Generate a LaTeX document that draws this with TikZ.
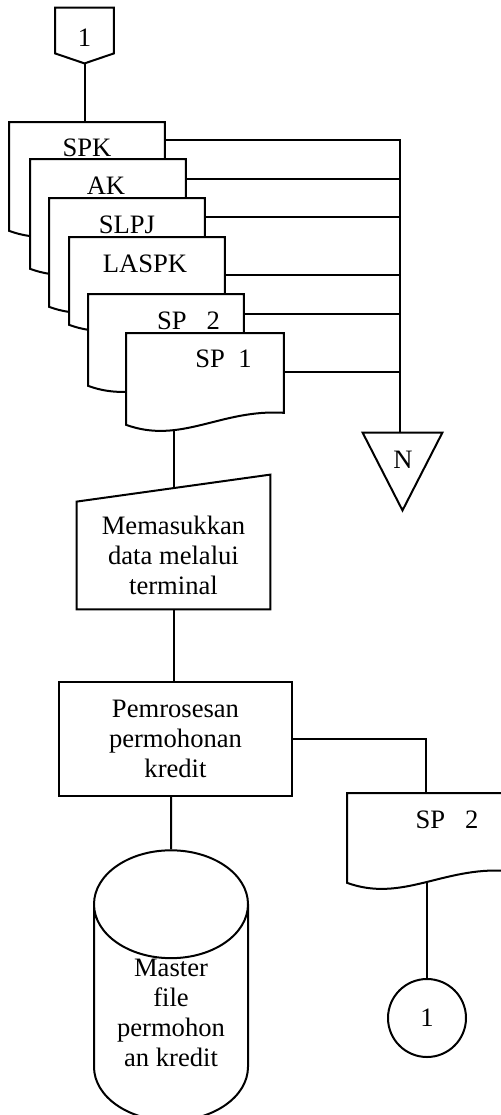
\documentclass[tikz,border=0pt]{standalone}
\usepackage{fontspec}
\setmainfont{Liberation Serif}
\usetikzlibrary{shapes.geometric,backgrounds}

\tikzset{
  every node/.style={font=\fontsize{13.3}{15}\selectfont, align=center, inner sep=0pt},
  garis/.style={line width=1pt},
  bentuk/.style={draw, garis, fill=white},
  dok/.style={minimum width=77.5pt, anchor=north west},
}

\begin{document}
\begin{tikzpicture}[x=0.5pt, y=-0.5pt]
  \useasboundingbox (0,0) rectangle (501,1115);
  \clip (0,0) rectangle (501,1115);

  % penghubung halaman
  \node[minimum width=29pt, minimum height=22.5pt] (awal) at (84.5,30.5) {};
  \draw[bentuk] (awal.south west) -- (awal.north west) -- (awal.north east)
    -- (awal.south east) -- ([yshift=-5pt]awal.south) -- cycle;
  \node (awalteks) at (84.5,38) {1};

  % tumpukan dokumen
  \node[dok, minimum height=54pt] (spk) at (9,122) {};
  \draw[bentuk] (spk.north east) -- (spk.north west) -- (spk.south west)
    .. controls +(27pt,-10pt) and +(-31pt,2pt) .. ([yshift=6pt]spk.south east) -- cycle;
  \node (spkteks) at (87,148) {SPK};

  \node[dok, minimum height=54.5pt] (ak) at (30,159) {};
  \draw[bentuk] (ak.north east) -- (ak.north west) -- (ak.south west)
    .. controls +(27pt,-10pt) and +(-31pt,2pt) .. ([yshift=6pt]ak.south east) -- cycle;
  \node (akteks) at (106,186) {AK};

  \node[dok, minimum height=54pt] (slpj) at (49,198) {};
  \draw[bentuk] (slpj.north east) -- (slpj.north west) -- (slpj.south west)
    .. controls +(27pt,-10pt) and +(-31pt,2pt) .. ([yshift=6pt]slpj.south east) -- cycle;
  \node (slpjteks) at (127,225) {SLPJ};

  \node[dok, minimum height=43.5pt] (laspk) at (69,237) {};
  \draw[bentuk] (laspk.north east) -- (laspk.north west) -- (laspk.south west)
    .. controls +(27pt,-10pt) and +(-31pt,2pt) .. ([yshift=6pt]laspk.south east) -- cycle;
  \node (laspkteks) at (145,264) {LASPK};

  \node[dok, minimum height=45.5pt] (sp2) at (88,294) {};
  \draw[bentuk] (sp2.north east) -- (sp2.north west) -- (sp2.south west)
    .. controls +(27pt,-10pt) and +(-31pt,2pt) .. ([yshift=6pt]sp2.south east) -- cycle;
  \node (sp2teks) at (188.5,321) {SP\ \ \ 2};

  \node[dok, minimum width=78.5pt, minimum height=45.5pt] (sp1) at (126,333) {};
  \draw[bentuk] (sp1.north east) -- (sp1.north west) -- (sp1.south west)
    .. controls +(27.5pt,-10pt) and +(-31.5pt,2pt) .. ([yshift=6pt]sp1.south east) -- cycle;
  \node (sp1teks) at (223.5,359) {SP\ \ 1};

  % arsip
  \coordinate (bus) at (400,140);
  \node[minimum width=39.5pt, minimum height=38.5pt] (akhir) at (402.5,471.5) {};
  \draw[bentuk] (akhir.north west) -- (akhir.north east) -- (akhir.south) -- cycle;
  \node (akhirteks) at (403,460) {N};

  % input terminal
  \node[minimum width=96.5pt, minimum height=53.5pt] (input) at (173.5,555.5) {};
  \draw[bentuk] (input.south west) -- (input.north west)
    -- ([yshift=13.5pt]input.north east) -- (input.south east) -- cycle;
  \node (inputteks) at (input) {Memasukkan\\data melalui\\terminal};

  \node[bentuk, minimum width=116.5pt, minimum height=57pt] (proses) at (175.5,739)
    {Pemrosesan\\permohonan\\kredit};

  \node[bentuk, cylinder, shape border rotate=90, aspect=1,
        minimum width=77pt, minimum height=103.5pt] (db) at (171,1013)
    {Master\\file\\permohon\\an kredit};

  \node[dok, minimum width=79pt, minimum height=44.5pt] (sp2b) at (347,793) {};
  \draw[bentuk] (sp2b.north east) -- (sp2b.north west) -- (sp2b.south west)
    .. controls +(27.5pt,-10pt) and +(-31.5pt,2pt) .. ([yshift=6pt]sp2b.south east) -- cycle;
  \node (sp2bteks) at (447,820) {SP\ \ \ 2};

  \node[bentuk, circle, minimum size=39pt] (satu) at (427,1018) {1};

  % garis alir
  \begin{scope}[on background layer]
    \draw[garis] (awal) -- (awal |- spk);
    \draw[garis] ([yshift=-9pt]spk.north) -- (bus) -- (bus |- akhir);
    \draw[garis] ([yshift=-10pt]ak.north) -| (bus);
    \draw[garis] ([yshift=-9.5pt]slpj.north) -| (bus);
    \draw[garis] ([yshift=-19pt]laspk.north) -| (bus);
    \draw[garis] ([yshift=-10pt]sp2.north) -| (bus);
    \draw[garis] ([yshift=-19.5pt]sp1.north) -| (bus);
    \draw[garis] (input |- sp1) -- (input);
    \draw[garis] (input) -- (input |- proses);
    \draw[garis] (db |- proses) -- (db);
    \draw[garis] (proses) -| (sp2b);
    \draw[garis] (satu |- sp2b) -- (satu);
  \end{scope}
\end{tikzpicture}
\end{document}
